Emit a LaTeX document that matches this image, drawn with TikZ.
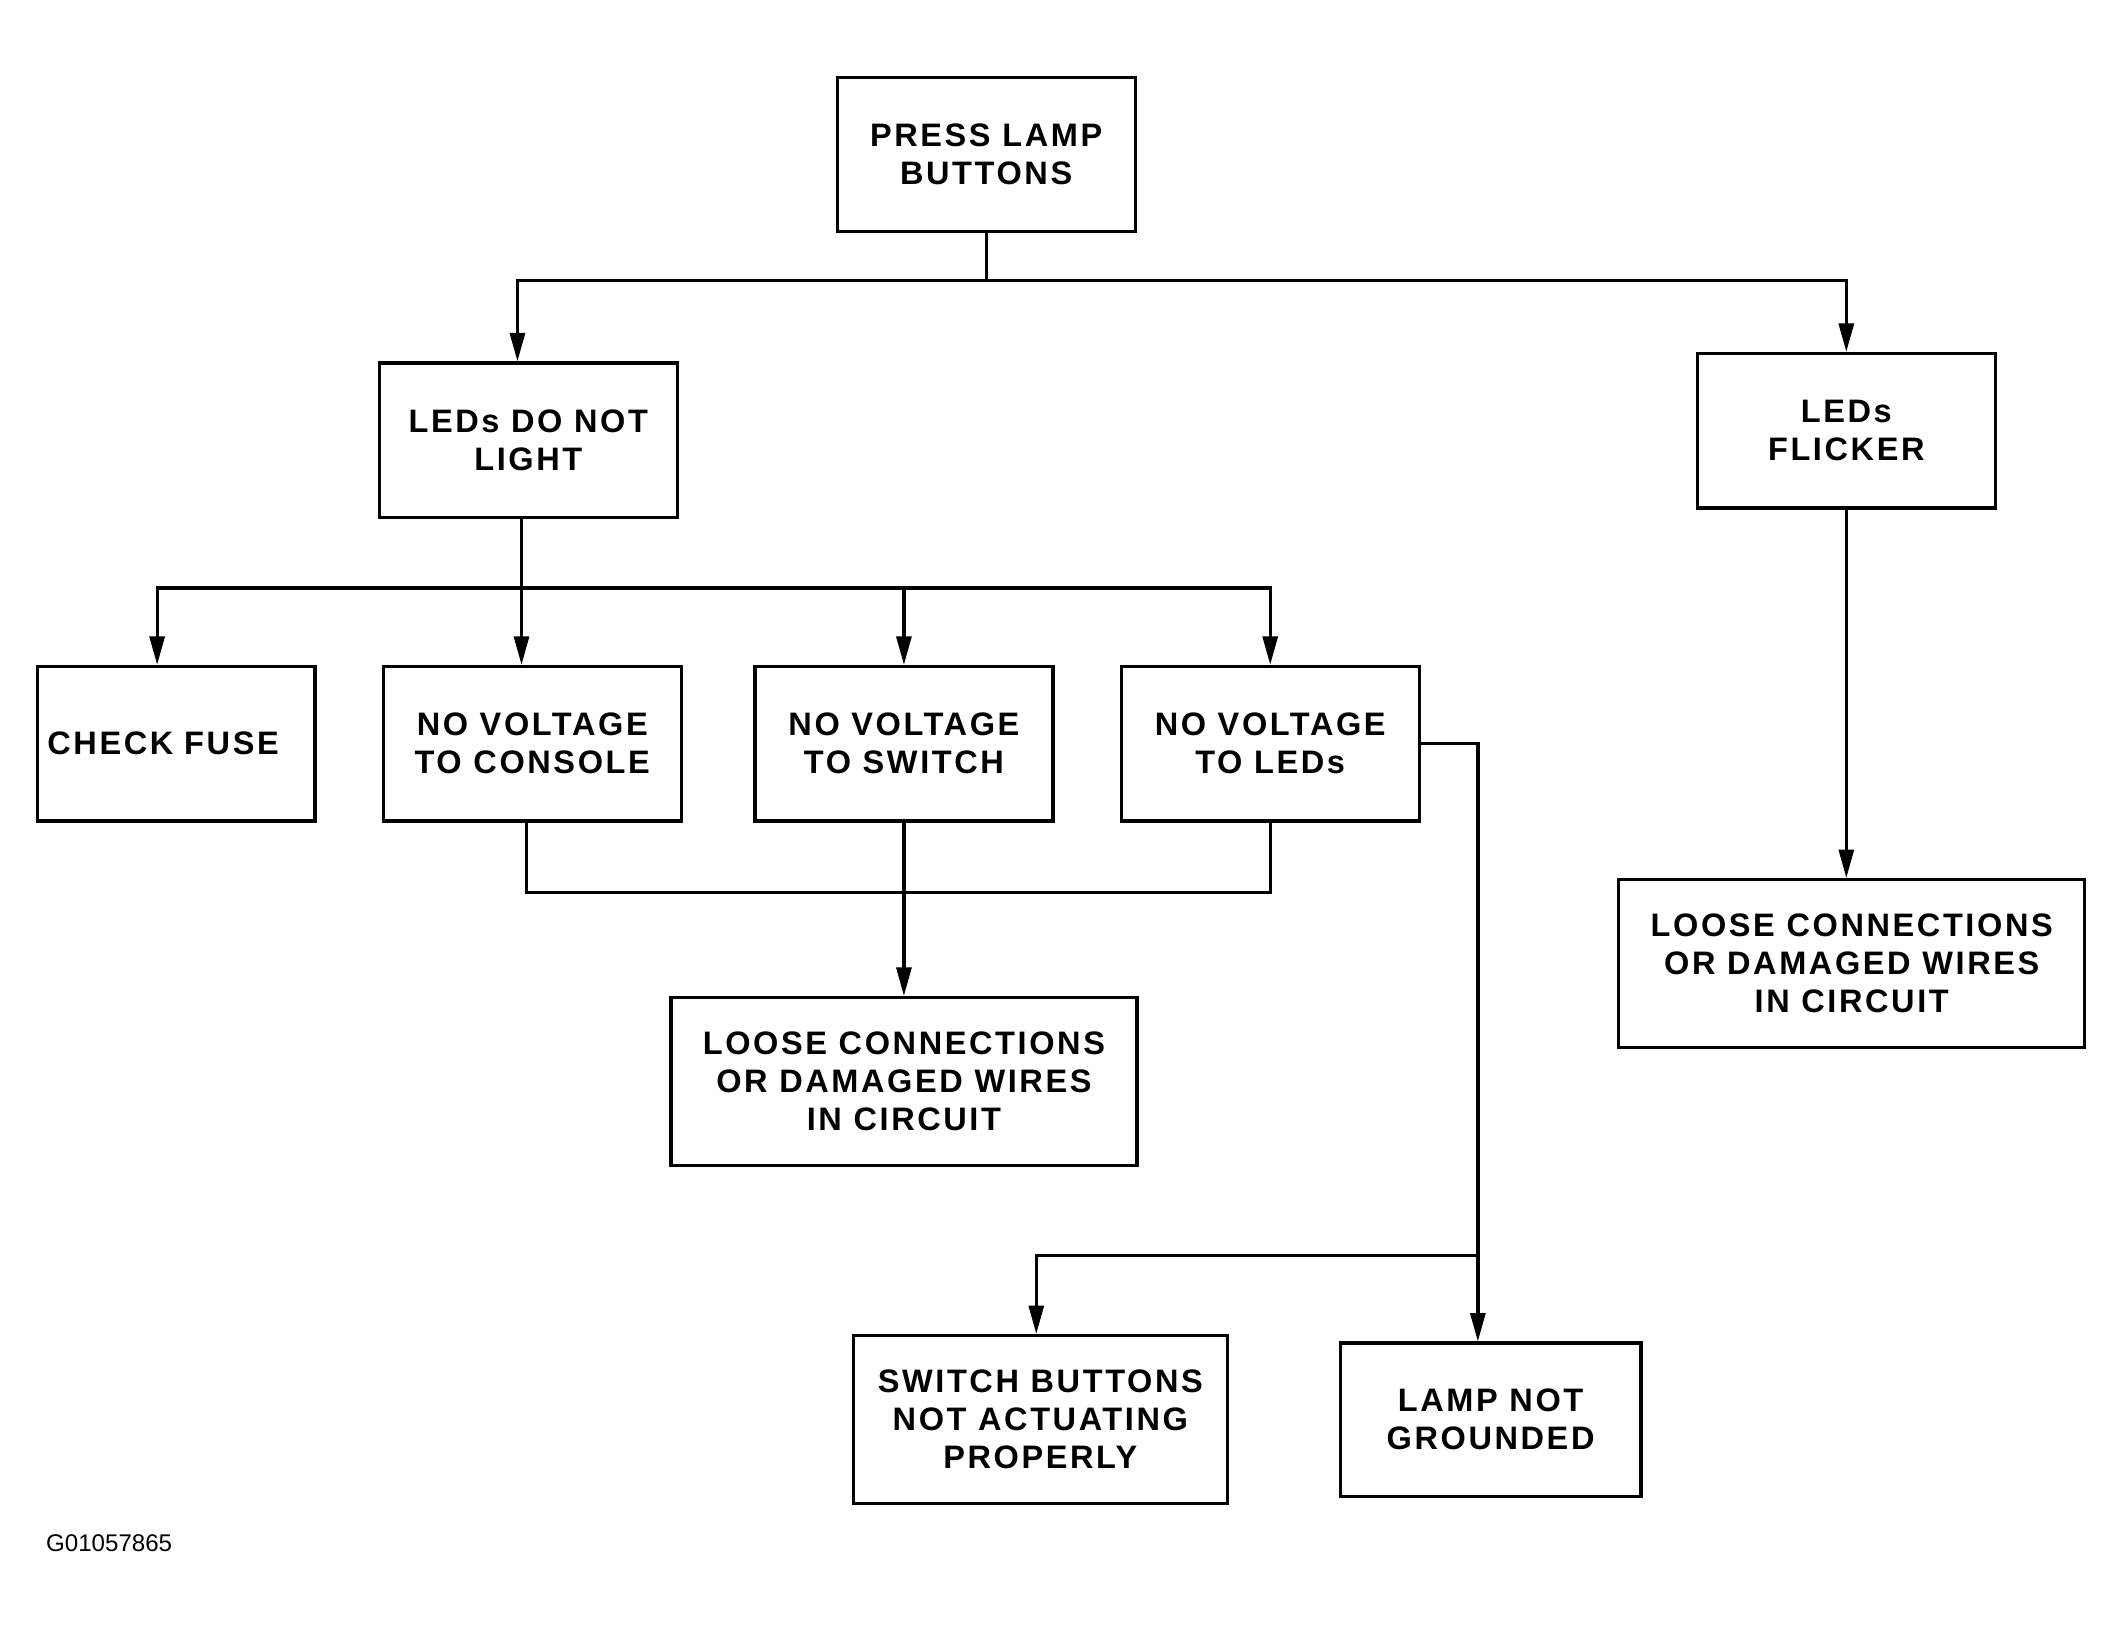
\documentclass[tikz,border=0pt]{standalone}
\usepackage{fontspec}
\setmainfont{Liberation Sans}
\newfontfamily\boxfont{Liberation Sans}[LetterSpace=8]
\usetikzlibrary{positioning,arrows.meta}

\tikzset{
  chartbox/.style = {draw, line width=1.2pt, align=center,
    minimum width=110pt, minimum height=57pt, inner sep=2pt,
    font=\boxfont\bfseries\fontsize{12}{14}\selectfont},
  widebox/.style = {chartbox, minimum width=172pt, minimum height=62pt},
  flow/.style = {line width=1.2pt, -{Triangle[length=10.5pt,width=5.5pt]}},
  wire/.style = {line width=1.2pt},
}

\begin{document}
\begin{tikzpicture}[x=0.5pt, y=-0.5pt]
  \useasboundingbox (0,0) rectangle (1568,1201);

  \node[chartbox] (press) at (728,114) {PRESS LAMP\\BUTTONS};
  \node[chartbox] (dnl) at (390,325) {LEDs DO NOT\\LIGHT};
  \node[chartbox] (flicker) at (1363,318) {LEDs\\FLICKER};

  \node[chartbox, minimum width=102.5pt, text width=95pt, align=left] (fuse) at (130,549) {CHECK FUSE};
  \node[chartbox, right=24pt of fuse] (console) {NO VOLTAGE\\TO CONSOLE};
  \node[chartbox, right=26pt of console] (switch) {NO VOLTAGE\\TO SWITCH};
  \node[chartbox, right=24pt of switch] (leds) {NO VOLTAGE\\TO LEDs};

  \node[widebox, below=64pt of switch] (loosemid) {LOOSE CONNECTIONS\\OR DAMAGED WIRES\\IN CIRCUIT};
  \node[widebox, below=136pt of flicker, xshift=2pt] (loosert) {LOOSE CONNECTIONS\\OR DAMAGED WIRES\\IN CIRCUIT};

  \node[chartbox, minimum width=138pt, minimum height=62pt] (buttons) at (768,1048) {SWITCH BUTTONS\\NOT ACTUATING\\PROPERLY};
  \node[chartbox, minimum width=111pt, minimum height=56.5pt, right=40.5pt of buttons] (lamp) {LAMP NOT\\GROUNDED};

  \node[anchor=base west, font=\fontsize{8.9}{10}\selectfont] (code) at (27,1145) {G01057865};

  % junctions
  \coordinate (j1) at (728,207);
  \coordinate (j2) at (385,434);
  \coordinate (m1) at (664,659);
  \coordinate (k1) at (1091,927);

  \draw[wire] (press) -- (j1);
  \draw[flow] (j1) -| ([xshift=-4pt]dnl.north);
  \draw[flow] (j1) -| (flicker.north);

  \draw[wire] ([xshift=-2.5pt]dnl.south) -- (j2);
  \draw[flow] (j2) -| ([xshift=-7pt]fuse.north);
  \draw[flow] (j2) -- (j2 |- console.north);
  \draw[flow] (j2) -| (switch.north);
  \draw[flow] (j2) -| (leds.north);

  \draw[wire] ([xshift=-2pt]console.south) |- (m1) -| (leds.south);
  \draw[flow] (switch.south) -- (switch.south |- loosemid.north);

  \draw[wire] (leds.east) -| (k1);
  \draw[flow] (k1) -| ([xshift=-1.5pt]buttons.north);
  \draw[flow] (k1) -- (k1 |- lamp.north);

  \draw[flow] (flicker.south) -- (flicker.south |- loosert.north);
\end{tikzpicture}
\end{document}
